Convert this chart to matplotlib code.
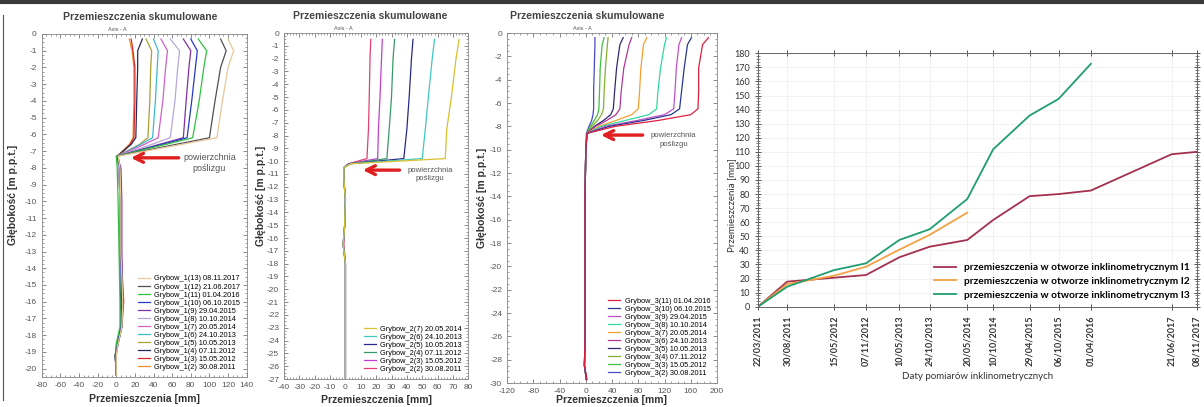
"""Grybow inclinometers: cumulative displacement profiles (I1, I2, I3)
plus displacement-vs-time at the sliding surface."""
import pandas as pd
import matplotlib
matplotlib.use("Agg")
import matplotlib.pyplot as plt
from matplotlib.ticker import MultipleLocator
from matplotlib.lines import Line2D

plt.rcParams["font.family"] = ["Liberation Sans", "DejaVu Sans"]
plt.rcParams["axes.unicode_minus"] = False

# ---- inclinometer I1 (depth in m, displacement in mm) ----
depth1 = [-0.3, -1.0, -2.0, -4.0, -6.2, -6.6, -7.3, -8.0, -10.0, -13.0,
          -16.0, -17.5, -18.5, -19.2, -20.4]
labels1 = ["Grybow_1(13) 08.11.2017", "Grybow_1(12) 21.06.2017",
           "Grybow_1(11) 01.04.2016", "Grybow_1(10) 06.10.2015",
           "Grybow_1(9) 29.04.2015", "Grybow_1(8) 10.10.2014",
           "Grybow_1(7) 20.05.2014", "Grybow_1(6) 24.10.2013",
           "Grybow_1(5) 10.05.2013", "Grybow_1(4) 07.11.2012",
           "Grybow_1(3) 15.05.2012", "Grybow_1(2) 30.08.2011"]
disp1 = [
    [120, 126, 120, 114, 108, 70, 2, 4, 5, 5, 7, 6, 2, 0, 0],
    [112, 118, 112, 106, 100, 64, 1, 4, 5, 5, 7, 6, 2, -1, 0],
    [88, 97, 94, 89, 82, 53, 0, 1, 2, 3, 4, 4, 0, -1, 0],
    [80, 87, 85, 81, 76, 49, 1, 4, 5, 5, 6, 5, 1, -1, 0],
    [72, 80, 78, 75, 72, 46, 1, 5, 6, 6, 7, 6, 2, -1, 0],
    [58, 68, 66, 63, 58, 38, 1, 3, 4, 5, 6, 5, 1, -1, 0],
    [48, 55, 53, 50, 45, 30, 1, 3, 4, 5, 6, 5, 1, -1, 0],
    [40, 45, 44, 42, 39, 26, 1, 3, 4, 4, 6, 5, 1, -1, 0],
    [32, 38, 37, 36, 34, 25, 1, 3, 4, 4, 6, 5, 1, -1, 0],
    [28, 23, 23, 22, 21, 16, 1, 3, 4, 4, 5, 5, 1, -1, 0],
    [16, 18, 20, 20, 19, 15, 2, 4, 5, 5, 8, 6, 2, 0, 0],
    [14, 17, 19, 19, 18, 14, 1, 3, 4, 4, 5, 5, 1, -1, 0],
]
colors1 = ["#e8c898", "#505050", "#30c040", "#2838c8", "#8030a0", "#b8a8d8",
           "#d060c8", "#40b8d0", "#a8a030", "#282860", "#d82828", "#e89030"]

# ---- inclinometer I2 ----
depth2 = [-0.5, -2.0, -5.0, -7.5, -9.8, -10.2, -10.5, -11.5, -13.0, -15.0,
          -16.5, -18.0, -20.0, -23.0, -26.9]
labels2 = ["Grybow_2(7) 20.05.2014", "Grybow_2(6) 24.10.2013",
           "Grybow_2(5) 10.05.2013", "Grybow_2(4) 07.11.2012",
           "Grybow_2(3) 15.05.2012", "Grybow_2(2) 30.08.2011"]
disp2 = [
    [74, 72, 69, 66, 65, 4, -1, -1, 0, -0.5, -1.5, 0, 0, 0, 0],
    [58, 56.5, 54, 52, 50, 3, -1, -1, 0, -0.5, -1.5, 0, 0, 0, 0],
    [44, 43, 41.5, 40, 38, 3, -1, -1, 0, -0.5, -1.5, 0, 0, 0, 0],
    [32, 31, 30, 28.5, 27, 3, -1, -1, 0, -0.5, -1.5, 0, 0, 0, 0],
    [24, 23.5, 22.5, 21.5, 21, 2, -1, -1, 0, -0.5, -1.5, 0, 0, 0, 0],
    [16.5, 16, 15.5, 15, 14, 2, -1, -1, 0, -0.5, -1, 0, 0, 0, 0],
]
colors2 = ["#d8c030", "#40c8c0", "#282888", "#389868", "#c040d0", "#e04070"]

# ---- inclinometer I3 ----
depth3 = [-0.4, -1.0, -3.0, -5.0, -6.5, -7.0, -7.5, -8.0, -8.6, -10.0,
          -14.0, -18.0, -22.0, -26.0, -28.5, -29.7]
labels3 = ["Grybow_3(11) 01.04.2016", "Grybow_3(10) 06.10.2015",
           "Grybow_3(9) 29.04.2015", "Grybow_3(8) 10.10.2014",
           "Grybow_3(7) 20.05.2014", "Grybow_3(6) 24.10.2013",
           "Grybow_3(5) 10.05.2013", "Grybow_3(4) 07.11.2012",
           "Grybow_3(3) 15.05.2012", "Grybow_3(2) 30.08.2011"]
disp3 = [
    [187, 178, 172, 172, 171, 160, 110, 45, 2, 0, -1, -1, -1, -1, -2, 2],
    [161, 155, 150, 146, 143, 130, 88, 36, 2, 0, -1, -1, -1, -1, -2, 1],
    [146, 142, 138, 136, 134, 120, 78, 30, 2, 0, -1, -1, -1, -1, -2, 1],
    [123, 120, 114, 110, 108, 96, 60, 24, 2, 0, -1, -1, -1, -1, -2, 1],
    [93, 88, 84, 82, 80, 70, 46, 20, 2, 0, -1, -1, -1, -1, -2, 1],
    [70, 66, 58, 54, 52, 46, 32, 15, 2, 0, -1, -1, -1, -1, -2, 1],
    [57, 52, 47, 44, 42, 38, 27, 13, 2, 0, -1, -1, -1, -1, -2, 1],
    [34, 33, 30, 28, 27, 24, 18, 9, 2, 0, -1, -1, -1, -1, -2, 1],
    [28, 25, 22, 21, 20, 18, 13, 7, 2, 0, -1, -1, -1, -1, -2, 1],
    [14, 14, 13, 12, 12, 11, 9, 5, 1, 0, -1, -1, -1, -1, -2, 1],
]
colors3 = ["#e02040", "#283890", "#c050c8", "#30d8a0", "#f0a030", "#b03898",
           "#302870", "#88b030", "#40c040", "#4848c8"]

# ---- displacement at the slip surface vs time ----
date_labels = ["22/03/2011", "30/08/2011", "15/05/2012", "07/11/2012",
               "10/05/2013", "24/10/2013", "20/05/2014", "10/10/2014",
               "29/04/2015", "06/10/2015", "01/04/2016", "21/06/2017",
               "08/11/2017"]
i1 = [0, 17.8, 20.6, 22.5, 35.1, 42.6, 47.4, 61.6, 78.5, 80, 82.5, 108.3, 110]
i2 = [0, 16, 22, 28.4, 40.5, 51, 66.8]
i3 = [0, 14.2, 26, 30.8, 47.4, 55, 76.5, 111.8, 135.8, 147.6, 172.5]
series_labels = ["przemieszczenia w otworze inklinometrycznym I1",
                 "przemieszczenia w otworze inklinometrycznym I2",
                 "przemieszczenia w otworze inklinometrycznym I3"]

W, H = 1204, 407
fig = plt.figure(figsize=(W / 100, H / 100), dpi=100)


def px_axes(left, top, right, bottom):
    return fig.add_axes([left / W, 1 - bottom / H, (right - left) / W, (bottom - top) / H])


def profile(ax, depth, disp, labels, colors, xlim, xstep, xminor, ylim, ystep, yminor,
            arrow, title_x, axis_x, ylab_x, xlab_y, note_size):
    handles = []
    for vals, lab, c in reversed(list(zip(disp, labels, colors))):
        h, = ax.plot(vals, depth, color=c, lw=0.9, label=lab)
        handles.append(h)
    handles = handles[::-1]
    ax.set_xlim(*xlim)
    ax.set_ylim(*ylim)
    ax.xaxis.set_major_locator(MultipleLocator(xstep))
    ax.xaxis.set_minor_locator(MultipleLocator(xminor))
    ax.yaxis.set_major_locator(MultipleLocator(ystep))
    ax.yaxis.set_minor_locator(MultipleLocator(yminor))
    ax.tick_params(which="both", direction="in", top=True, right=True,
                   labelsize=6, labelcolor="#555555", color="#777777")
    ax.tick_params(which="major", length=3, width=0.6)
    ax.tick_params(which="minor", length=1.5, width=0.5)
    for s in ax.spines.values():
        s.set_color("#888888")
        s.set_linewidth(0.6)
    ax.set_xlabel("Przemieszczenia [mm]", fontsize=7.5, fontweight="bold",
                  color="#333333", va="center")
    ax.xaxis.set_label_coords(0.5, xlab_y)
    ax.set_ylabel("Głębokość [m p.p.t.]", fontsize=7.5, fontweight="bold", color="#333333")
    ax.yaxis.set_label_coords(ylab_x, 0.53)
    ax.annotate("Przemieszczenia skumulowane", xy=(title_x, 1), xycoords="axes fraction",
                xytext=(0, 12), textcoords="offset points", ha="center", va="center",
                fontsize=7.5, fontweight="bold", color="#444444")
    ax.annotate("Axis - A", xy=(axis_x, 1), xycoords="axes fraction",
                xytext=(0, 3.5), textcoords="offset points", ha="center", va="center",
                fontsize=4, color="#555555")
    (hx, hy), tx, (lx, ly1, ly2) = arrow
    ax.annotate("", xy=(hx, hy), xytext=(tx, hy),
                arrowprops=dict(arrowstyle="->", color="#e02020", lw=2.4, mutation_scale=16))
    ax.text(lx, ly1, "powierzchnia", fontsize=note_size, color="#555555", ha="center", va="center")
    ax.text(lx, ly2, "poślizgu", fontsize=note_size, color="#555555", ha="center", va="center")
    ax.legend(handles=handles, loc="lower right", bbox_to_anchor=(0.99, 0.005),
              fontsize=5.3, frameon=False, handlelength=1.6, handletextpad=0.6,
              labelspacing=0.12, borderaxespad=0.2)


ax1 = px_axes(41.7, 34, 246.7, 377)
profile(ax1, depth1, disp1, labels1, colors1, (-80, 140), 20, 5, (-20.5, 0), 1, 0.25,
        ((12.7, -7.4), 70, (100, -7.4, -8.05)), 0.48, 0.37, -0.116, -0.064, 6.5)

ax2 = px_axes(284, 33, 468.3, 379)
profile(ax2, depth2, disp2, labels2, colors2, (-40, 80), 10, 2, (-27, 0), 1, 0.25,
        ((9.5, -10.7), 37, (55, -10.7, -11.35)), 0.47, 0.32, -0.098, -0.061, 5.6)

ax3 = px_axes(507, 33, 717, 383)
profile(ax3, depth3, disp3, labels3, colors3, (-120, 200), 40, 10, (-30, 0), 2, 0.5,
        ((19, -8.75), 91, (134, -8.75, -9.6)), 0.38, 0.36, -0.095, -0.049, 5.6)

# ---- time series panel ----
dates = pd.to_datetime(date_labels, format="%d/%m/%Y")
ax4 = px_axes(758, 53.3, 1197, 306.7)
ax4.plot(dates, i1, color="#a3304f", lw=1.3, label=series_labels[0])
ax4.plot(dates[:len(i2)], i2, color="#f5a145", lw=1.3, label=series_labels[1])
ax4.plot(dates[:len(i3)], i3, color="#1f9e6e", lw=1.3, label=series_labels[2])
ax4.set_xlim(dates[0], dates[-1])
ax4.set_ylim(0, 180)
ax4.set_xticks(dates)
ax4.set_xticklabels(date_labels, rotation=90, fontsize=6.5, fontweight="bold",
                    family="Lato", color="#333333")
ax4.yaxis.set_major_locator(MultipleLocator(10))
ax4.yaxis.set_minor_locator(MultipleLocator(2))
for t in ax4.get_yticklabels():
    t.set_family("Lato")
ax4.tick_params(axis="y", labelsize=6.5, labelcolor="#333333")
ax4.tick_params(which="major", direction="inout", length=5, width=0.7,
                top=True, right=True, color="#555555")
ax4.tick_params(which="minor", direction="inout", length=2.5, width=0.5,
                right=True, color="#555555")
ax4.grid(True, color="#f0f0f0", lw=0.6)
ax4.set_axisbelow(True)
for s in ax4.spines.values():
    s.set_color("#666666")
    s.set_linewidth(0.7)
ax4.set_xlabel("Daty pomiarów inklinometrycznych", fontsize=7, family="Lato", color="#333333")
ax4.xaxis.set_label_coords(0.5, -0.256)
ax4.set_ylabel("Przemieszczenia [mm]", fontsize=7, family="Lato", color="#333333")
ax4.yaxis.set_label_coords(-0.05, 0.40)
ax4.legend(loc="lower right", bbox_to_anchor=(1.0, 0.0), frameon=False,
           prop=dict(family="Lato", weight="bold", size=7.3), handlelength=2.2,
           labelspacing=0.45, borderaxespad=0.3)

# page frame remnants (scan edges)
fig.add_artist(Line2D([0, 1], [1 - 1.5 / H, 1 - 1.5 / H], transform=fig.transFigure,
                      color="#3a3a3a", lw=3))
fig.add_artist(Line2D([3 / W, 3 / W], [1 - 15 / H, 1 - 400 / H], transform=fig.transFigure,
                      color="#555555", lw=0.8))

fig.savefig("out.png", dpi=100)
print("wrote out.png")
